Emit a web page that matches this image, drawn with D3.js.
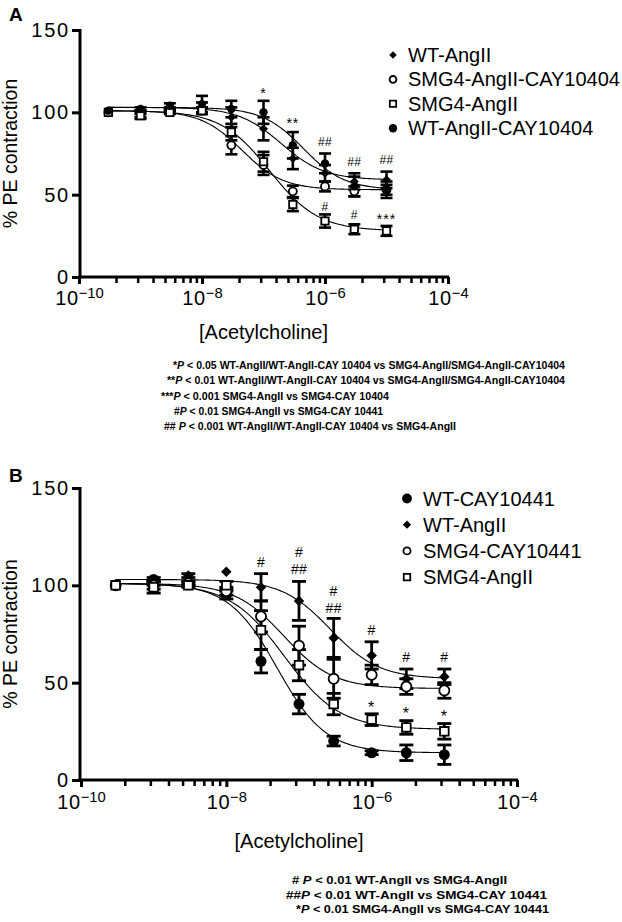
<!DOCTYPE html>
<html><head><meta charset="utf-8">
<script src="https://cdn.jsdelivr.net/npm/d3@7"></script>
<style>
body{margin:0;background:#fff}
svg{display:block}
text{font-family:"Liberation Sans",Arial,Helvetica,sans-serif;fill:#000}
</style>
</head><body>
<svg id="chart" width="622" height="922"></svg>
<script>
// ---------------- DATA ----------------
// Acetylcholine concentrations (M)
const conc = [3e-10, 1e-9, 3e-9, 1e-8, 3e-8, 1e-7, 3e-7, 1e-6, 3e-6, 1e-5];

// x-axis major ticks and their exponent labels
const xMajorTicks = [1e-10, 1e-8, 1e-6, 1e-4];
const xTickExponents = ["\u221210", "\u22128", "\u22126", "\u22124"];
const xMinorMultipliers = [2, 3, 4, 5, 6, 7, 8, 9];
const yTicks = [0, 50, 100, 150];

// ----- Panel A -----
const namesA = ["WT-AngII", "SMG4-AngII-CAY10404", "SMG4-AngII", "WT-AngII-CAY10404"];
const symbolsA = ["diamond", "openCircle", "openSquare", "filledCircle"];
const wtAngII_A        = [100, 100, 102, 103, 97, 90, 72, 63, 58, 59];
const wtAngII_A_sem    = [0, 1, 1, 3, 6, 7, 6.5, 5, 5, 5];
const smg4AngIICay_A     = [100, 99, 101, 101, 80, 68, 52, 55, 52, 53];
const smg4AngIICay_A_sem = [0, 2, 1, 2, 5.5, 6, 3.5, 3, 3, 3];
const smg4AngII_A      = [100, 98, 100, 101, 88, 70, 44, 34, 29, 28];
const smg4AngII_A_sem  = [0, 2, 1, 2, 5, 6, 4, 4, 3, 3];
const wtAngIICay_A     = [101, 102, 104, 105, 102, 100, 80, 69, 55, 53];
const wtAngIICay_A_sem = [0, 1, 1.5, 5, 5, 7, 8, 6, 6, 5];
// fitted sigmoid parameters (top, bottom, logEC50, Hill slope) per series, order as namesA
const fitTopA    = [103, 101, 101, 103];
const fitBottomA = [59, 53, 28, 53];
const fitLogEC50A = [-6.71, -7.35, -6.9, -6.35];
const fitHillA   = [1.24, 1.3, 1.1, 1.3];
// significance marks
const annotA_conc = [1e-7, 3e-7, 1e-6, 3e-6, 1e-5, 1e-6, 3e-6, 1e-5];
const annotA_val  = [113, 95, 82, 70, 71, 43, 38, 36.5];
const annotA_text = ["*", "**", "##", "##", "##", "#", "#", "***"];
const footA_prefix = ["*", "**", "***", "#", "## "];
const footA_rest = [
  " < 0.05 WT-AngII/WT-AngII-CAY 10404 vs SMG4-AngII/SMG4-AngII-CAY10404",
  " < 0.01 WT-AngII/WT-AngII-CAY 10404 vs SMG4-AngII/SMG4-AngII-CAY10404",
  " < 0.001 SMG4-AngII vs SMG4-CAY 10404",
  " < 0.01 SMG4-AngII vs SMG4-CAY 10441",
  " < 0.001 WT-AngII/WT-AngII-CAY 10404 vs SMG4-AngII"
];

// ----- Panel B -----
const namesB = ["WT-CAY10441", "WT-AngII", "SMG4-CAY10441", "SMG4-AngII"];
const symbolsB = ["filledCircle", "diamond", "openCircle", "openSquare"];
const wtCay_B        = [100, 103, 101, 95, 61, 39, 20, 14, 14, 13];
const wtCay_B_sem    = [0, 1, 1, 2, 6, 5, 2.5, 1, 4, 5];
const wtAngII_B      = [100, 101, 105, 107, 99, 92, 73, 64, 52, 53];
const wtAngII_B_sem  = [0, 1, 1, 0, 7, 10, 10, 7, 5, 4];
const smg4Cay_B      = [100, 100, 101, 97, 84, 69, 52, 54, 48, 46];
const smg4Cay_B_sem  = [0, 2, 1, 2, 8, 10, 10, 5, 4, 4];
const smg4AngII_B    = [100, 99, 100, 100, 77, 59, 39, 31, 27, 25];
const smg4AngII_B_sem= [0, 3, 1, 2, 10, 8, 5.5, 3, 3.5, 4];
const fitTopB    = [101, 103, 101, 101];
const fitBottomB = [14, 52, 47, 26];
const fitLogEC50B = [-7.3, -6.57, -7.21, -7.2];
const fitHillB   = [1.3, 1.3, 1.28, 1.15];
const annotB_conc = [3e-8, 1e-7, 1e-7, 3e-7, 3e-7, 1e-6, 3e-6, 1e-5, 1e-6, 3e-6, 1e-5];
const annotB_val  = [112, 117, 108.3, 97, 88.3, 77, 63.4, 63.4, 39, 35.6, 34.3];
const annotB_text = ["#", "#", "##", "#", "##", "#", "#", "#", "*", "*", "*"];
const footB_prefix = ["# ", "##", "*"];
const footB_rest = [
  " < 0.01 WT-AngII vs SMG4-AngII",
  " < 0.01 WT-AngII vs SMG4-CAY 10441",
  " < 0.01 SMG4-AngII vs SMG4-CAY 10441"
];

// ---------------- DRAWING ----------------
const svg = d3.select("#chart");
svg.append("rect").attr("width", 622).attr("height", 922).attr("fill", "#fff");

function symbolPath(kind, size) {
  if (kind === "diamond") return d3.symbol(d3.symbolSquare, size)();
  if (kind === "openSquare") return d3.symbol(d3.symbolSquare, size)();
  return d3.symbol(d3.symbolCircle, size)();
}
function drawMarker(g, kind, x, y, size) {
  const p = g.append("path").attr("d", symbolPath(kind, size))
    .attr("transform", `translate(${x},${y})` + (kind === "diamond" ? " rotate(45)" : ""));
  if (kind === "openCircle" || kind === "openSquare") {
    p.attr("fill", "#fff").attr("stroke", "#000").attr("stroke-width", 1.8);
  } else {
    p.attr("fill", "#000");
  }
}

function drawPanel(cfg) {
  const g = svg.append("g");
  const x = d3.scaleLog().domain([1e-10, 1e-4]).range(cfg.xRange);
  const y = d3.scaleLinear().domain([0, 150]).range(cfg.yRange);

  // curves
  const curveG = g.append("g");
  cfg.series.forEach((s, i) => {
    const lo = Math.log10(conc[0]), hi = Math.log10(conc[conc.length - 1]);
    const pts = d3.range(0, 201).map(k => {
      const lx = lo + (hi - lo) * k / 200;
      const v = cfg.fit.bottom[i] + (cfg.fit.top[i] - cfg.fit.bottom[i]) /
        (1 + Math.pow(10, (lx - cfg.fit.ec50[i]) * cfg.fit.hill[i]));
      return [Math.pow(10, lx), v];
    });
    curveG.append("path")
      .attr("d", d3.line().x(d => x(d[0])).y(d => y(d[1]))(pts))
      .attr("fill", "none").attr("stroke", "#000").attr("stroke-width", 1.1);
  });

  // error bars
  const errG = g.append("g").attr("stroke", "#000").attr("stroke-width", cfg.errW);
  cfg.series.forEach(s => {
    s.vals.forEach((v, j) => {
      const e = s.sem[j];
      if (!e) return;
      const cx = x(conc[j]);
      errG.append("line").attr("x1", cx).attr("x2", cx).attr("y1", y(v - e)).attr("y2", y(v + e));
      [v - e, v + e].forEach(t => {
        errG.append("line").attr("x1", cx - cfg.capW / 2).attr("x2", cx + cfg.capW / 2)
          .attr("y1", y(t)).attr("y2", y(t));
      });
    });
  });

  // markers
  const mG = g.append("g");
  cfg.series.forEach(s => {
    s.vals.forEach((v, j) => drawMarker(mG, s.symbol, x(conc[j]), y(v), cfg.markerSize[s.symbol]));
  });

  // annotations
  const aG = g.append("g");
  cfg.annot.conc.forEach((c, i) => {
    const t = cfg.annot.text[i];
    const star = t.indexOf("*") >= 0;
    aG.append("text").attr("x", x(c)).attr("y", y(cfg.annot.val[i]) + (star ? 0.62 : 0.36) * cfg.annotFs)
      .attr("text-anchor", "middle").attr("font-size", star ? cfg.annotFs + 2 : cfg.annotFs)
      .attr("letter-spacing", star ? 1 : 0.3)
      .text(t);
  });

  // y axis
  const yAx = g.append("g").attr("transform", `translate(${cfg.yAxisX},0)`)
    .call(d3.axisLeft(y).tickValues(yTicks).tickSize(8).tickSizeOuter(0).tickPadding(2));
  yAx.select(".domain").attr("stroke-width", 3).attr("d", `M0,${cfg.yRange[1] - 1}V${cfg.yRange[0] + 1.5}`);
  yAx.selectAll(".tick line").attr("stroke-width", 3);
  yAx.selectAll(".tick text").attr("font-size", 20).attr("font-family", "Liberation Sans, Arial, sans-serif")
    .attr("letter-spacing", 1.8);

  // x axis major
  const xAx = g.append("g").attr("transform", `translate(0,${cfg.yRange[0]})`)
    .call(d3.axisBottom(x).tickValues(xMajorTicks).tickSize(7).tickSizeOuter(0).tickFormat(() => "").tickPadding(6));
  xAx.select(".domain").attr("stroke-width", 3).attr("d", `M${cfg.yAxisX - 1.5},0H${cfg.xRange[1] + 1}`);
  xAx.selectAll(".tick line").attr("stroke-width", 3);
  xAx.selectAll(".tick text").each(function (d, i) {
    const t = d3.select(this).attr("font-size", 20).attr("font-family", "Liberation Sans, Arial, sans-serif")
      .attr("y", cfg.xLabelDy).attr("dy", null);
    t.text(null);
    t.append("tspan").attr("letter-spacing", 0.6).text("10");
    t.append("tspan").attr("dy", "-0.45em").attr("font-size", "0.74em").text(xTickExponents[i]);
  });
  // x axis minor ticks
  const minorVals = [];
  for (let k = 0; k < xMajorTicks.length - 1; k++) {
    const lo = Math.log10(xMajorTicks[k]), hi = Math.log10(xMajorTicks[k + 1]);
    xMinorMultipliers.forEach(m => minorVals.push(Math.pow(10, lo + (hi - lo) * Math.log10(m))));
  }
  const xMin = g.append("g").attr("transform", `translate(0,${cfg.yRange[0]})`)
    .call(d3.axisBottom(x).tickValues(minorVals).tickSize(6).tickFormat(() => ""));
  xMin.select(".domain").remove();
  xMin.selectAll(".tick line").attr("stroke-width", 2.5);

  // axis titles
  g.append("text").attr("x", (cfg.xRange[0] + cfg.xRange[1]) / 2).attr("y", cfg.xTitleY)
    .attr("text-anchor", "middle").attr("font-size", 20).text("[Acetylcholine]");
  g.append("text").attr("transform", `translate(${cfg.yTitleX},${(cfg.yRange[0] + cfg.yRange[1]) / 2}) rotate(-90)`)
    .attr("text-anchor", "middle").attr("font-size", 19.5).text("% PE contraction");

  // panel letter
  g.append("text").attr("x", 9).attr("y", cfg.letterY).attr("font-size", 19).attr("font-weight", "bold")
    .text(cfg.letter);

  // legend
  const lg = g.append("g");
  cfg.legend.names.forEach((n, i) => {
    const ly = cfg.legend.y0 + i * cfg.legend.dy;
    drawMarker(lg, cfg.legend.symbols[i], cfg.legend.mx, ly, cfg.legend.mSize[cfg.legend.symbols[i]]);
    lg.append("text").attr("x", cfg.legend.tx).attr("y", ly + 7).attr("font-size", cfg.legend.fs).text(n);
  });

  // footnotes
  const fg = g.append("g");
  cfg.foot.prefix.forEach((p, i) => {
    const L = cfg.foot.layout[i];
    const t = fg.append("text").attr("x", L[0]).attr("y", L[2]).attr("font-size", 11.3)
      .attr("font-weight", "bold").attr("textLength", L[1] - L[0]).attr("lengthAdjust", "spacingAndGlyphs");
    t.append("tspan").text(p);
    t.append("tspan").attr("font-style", "italic").text("P");
    t.append("tspan").text(cfg.foot.rest[i]);
  });
}

drawPanel({
  letter: "A", letterY: 21,
  xRange: [79, 448], yRange: [277, 30], yAxisX: 80,
  xLabelDy: 28, xTitleY: 339, yTitleX: 17,
  errW: 2.6, capW: 12, annotFs: 12,
  markerSize: { diamond: 40, openCircle: 50, openSquare: 55, filledCircle: 55 },
  series: [
    { vals: wtAngII_A, sem: wtAngII_A_sem, symbol: symbolsA[0] },
    { vals: smg4AngIICay_A, sem: smg4AngIICay_A_sem, symbol: symbolsA[1] },
    { vals: smg4AngII_A, sem: smg4AngII_A_sem, symbol: symbolsA[2] },
    { vals: wtAngIICay_A, sem: wtAngIICay_A_sem, symbol: symbolsA[3] }
  ],
  fit: { top: fitTopA, bottom: fitBottomA, ec50: fitLogEC50A, hill: fitHillA },
  annot: { conc: annotA_conc, val: annotA_val, text: annotA_text },
  legend: { names: namesA, symbols: symbolsA, mx: 393, tx: 408, y0: 55, dy: 24.4, fs: 20,
            mSize: { diamond: 28, openCircle: 36, openSquare: 40, filledCircle: 55 } },
  foot: { prefix: footA_prefix, rest: footA_rest,
          layout: [[173, 565, 368.5], [167, 565, 384], [161, 389, 399.5], [174, 383, 414.8], [164, 456, 430.2]] }
});

drawPanel({
  letter: "B", letterY: 482,
  xRange: [81, 517], yRange: [780, 488], yAxisX: 80,
  xLabelDy: 29, xTitleY: 848, yTitleX: 17,
  errW: 2.8, capW: 14, annotFs: 14,
  markerSize: { diamond: 55, openCircle: 80, openSquare: 75, filledCircle: 95 },
  series: [
    { vals: wtCay_B, sem: wtCay_B_sem, symbol: symbolsB[0] },
    { vals: wtAngII_B, sem: wtAngII_B_sem, symbol: symbolsB[1] },
    { vals: smg4Cay_B, sem: smg4Cay_B_sem, symbol: symbolsB[2] },
    { vals: smg4AngII_B, sem: smg4AngII_B_sem, symbol: symbolsB[3] }
  ],
  fit: { top: fitTopB, bottom: fitBottomB, ec50: fitLogEC50B, hill: fitHillB },
  annot: { conc: annotB_conc, val: annotB_val, text: annotB_text },
  legend: { names: namesB, symbols: symbolsB, mx: 407, tx: 423, y0: 498.5, dy: 26.2, fs: 20,
            mSize: { diamond: 34, openCircle: 40, openSquare: 42, filledCircle: 75 } },
  foot: { prefix: footB_prefix, rest: footB_rest,
          layout: [[292, 507, 884], [286, 547, 898.5], [296, 549, 913]] }
});
</script>
</body></html>
